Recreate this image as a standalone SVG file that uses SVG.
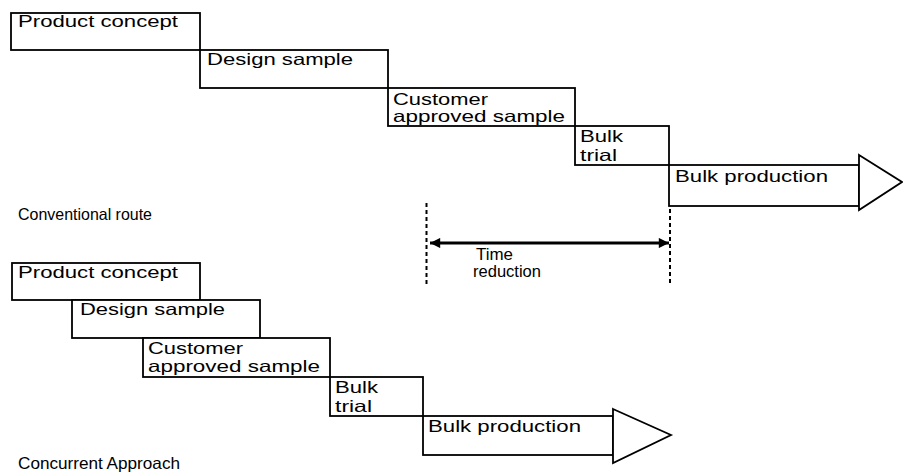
<svg xmlns="http://www.w3.org/2000/svg" width="903" height="472" viewBox="0 0 903 472">
<style>
.box{fill:#fff;stroke:#000;stroke-width:1.8}
.tri{fill:#fff;stroke:#000;stroke-width:1.8;stroke-linejoin:miter}
.t{font-family:"Liberation Sans",Arial,sans-serif;font-size:16.5px;fill:#000}
.dash{stroke:#000;stroke-width:2;stroke-dasharray:4 3;fill:none}
.arr{stroke:#000;stroke-width:3;fill:none}
</style>
<defs>
<marker id="ah" viewBox="0 0 10 10" refX="10" refY="5" markerWidth="4.5" markerHeight="3.4" orient="auto-start-reverse" markerUnits="strokeWidth">
<path d="M0,0 L10,5 L0,10 Z" fill="#000"/>
</marker>
</defs>
<rect width="903" height="472" fill="#fff"/>
<g id="conventional">
<g id="c-product-concept"><rect class="box" x="11" y="13" width="189" height="37"/><text class="t" x="18" y="27" textLength="160" lengthAdjust="spacingAndGlyphs">Product concept</text></g>
<g id="c-design-sample"><rect class="box" x="200" y="50" width="188" height="38"/><text class="t" x="207" y="65" textLength="146" lengthAdjust="spacingAndGlyphs">Design sample</text></g>
<g id="c-customer"><rect class="box" x="388" y="88" width="187" height="38"/><text class="t" x="393" y="105" textLength="95" lengthAdjust="spacingAndGlyphs">Customer</text><text class="t" x="393" y="122" textLength="172" lengthAdjust="spacingAndGlyphs">approved sample</text></g>
<g id="c-bulk-trial"><rect class="box" x="575" y="126" width="94" height="39"/><text class="t" x="580" y="142" textLength="43" lengthAdjust="spacingAndGlyphs">Bulk</text><text class="t" x="580" y="161" textLength="37" lengthAdjust="spacingAndGlyphs">trial</text></g>
<g id="c-bulk-production"><rect class="box" x="669" y="165" width="190" height="41"/><polygon class="tri" points="859,155 902,182 859,210"/><text class="t" x="675" y="182" textLength="153" lengthAdjust="spacingAndGlyphs">Bulk production</text></g>
<text class="t" x="18" y="220" textLength="134" lengthAdjust="spacingAndGlyphs">Conventional route</text>
</g>
<g id="connectors">
<line class="dash" x1="426.5" y1="203" x2="426.5" y2="284"/>
<line class="dash" x1="670" y1="209" x2="670" y2="284"/>
<line class="arr" x1="430" y1="243" x2="669" y2="243" marker-start="url(#ah)" marker-end="url(#ah)"/>
</g>
<g id="time-reduction">
<text class="t" x="476" y="260" textLength="37" lengthAdjust="spacingAndGlyphs">Time</text>
<text class="t" x="473" y="277" textLength="68" lengthAdjust="spacingAndGlyphs">reduction</text>
</g>
<g id="concurrent">
<g id="k-product-concept"><rect class="box" x="12" y="263" width="188" height="37"/><text class="t" x="18" y="278" textLength="160" lengthAdjust="spacingAndGlyphs">Product concept</text></g>
<g id="k-design-sample"><rect class="box" x="72" y="300" width="188" height="38"/><text class="t" x="80" y="315" textLength="145" lengthAdjust="spacingAndGlyphs">Design sample</text></g>
<g id="k-customer"><rect class="box" x="143" y="338" width="187" height="39"/><text class="t" x="148" y="354" textLength="95" lengthAdjust="spacingAndGlyphs">Customer</text><text class="t" x="148" y="372" textLength="172" lengthAdjust="spacingAndGlyphs">approved sample</text></g>
<g id="k-bulk-trial"><rect class="box" x="330" y="377" width="93" height="39"/><text class="t" x="335" y="393" textLength="43" lengthAdjust="spacingAndGlyphs">Bulk</text><text class="t" x="335" y="412" textLength="37" lengthAdjust="spacingAndGlyphs">trial</text></g>
<g id="k-bulk-production"><rect class="box" x="423" y="416" width="190" height="39"/><polygon class="tri" points="613,409 671,435 613,463"/><text class="t" x="428" y="432" textLength="153" lengthAdjust="spacingAndGlyphs">Bulk production</text></g>
<text class="t" x="18" y="469" textLength="162" lengthAdjust="spacingAndGlyphs">Concurrent Approach</text>
</g>
</svg>
